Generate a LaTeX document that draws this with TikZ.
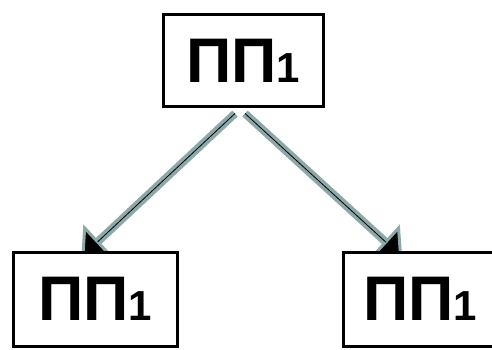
\documentclass[tikz,border=0pt]{standalone}
\usepackage{fontspec}
\setmainfont{Liberation Sans}
\usetikzlibrary{calc,arrows.meta,positioning,backgrounds}

\definecolor{arrgray}{RGB}{141,168,168}
\newcommand{\ppone}{ПП{\fontsize{42}{42}\selectfont 1}}

\begin{document}
\begin{tikzpicture}
[x=1pt, y=-1pt,
blk/.style={rectangle, draw, line width=3pt, fill=white, inner sep=0pt, font={\fontsize{63}{63}\selectfont\bfseries}},
arr/.style={draw=arrgray, line width=8pt},
head/.style={fill=black, draw=arrgray, line width=3pt, line join=miter},
core/.style={draw=black, line width=0.8pt}]

	\useasboundingbox (0,0) rectangle (492,350);

	\node (top) at (243,61) [blk, minimum width=160pt, minimum height=92pt] {\ppone};
	\node (lft) at (95,299) [blk, minimum width=164pt, minimum height=94pt] {\ppone};
	\node (rgt) at (420,299) [blk, minimum width=154pt, minimum height=94pt] {\ppone};

	\coordinate (lstart) at ($(top.south) + (-8,5)$);
	\coordinate (rstart) at ($(top.south) + (2,5)$);
	\coordinate (lend) at ($(lft.north) + (-12,5)$);
	\coordinate (rend) at ($(rgt.north west) + (59,5)$);
	\coordinate (lmid) at ($(lend)!20pt!(lstart)$);
	\coordinate (rmid) at ($(rend)!20pt!(rstart)$);

	\begin{scope}[on background layer]
	\draw[arr] (lstart) -- (lmid);
	\draw[arr] (rstart) -- (rmid);
	\draw[head] (lend) -- ($(lmid)!19pt!90:(lend)$) -- ($(lmid)!19pt!-90:(lend)$) -- cycle;
	\draw[head] (rend) -- ($(rmid)!19pt!90:(rend)$) -- ($(rmid)!19pt!-90:(rend)$) -- cycle;
	\draw[core] (lstart) -- (lmid);
	\draw[core] (rstart) -- (rmid);
	\end{scope}

\end{tikzpicture}
\end{document}
